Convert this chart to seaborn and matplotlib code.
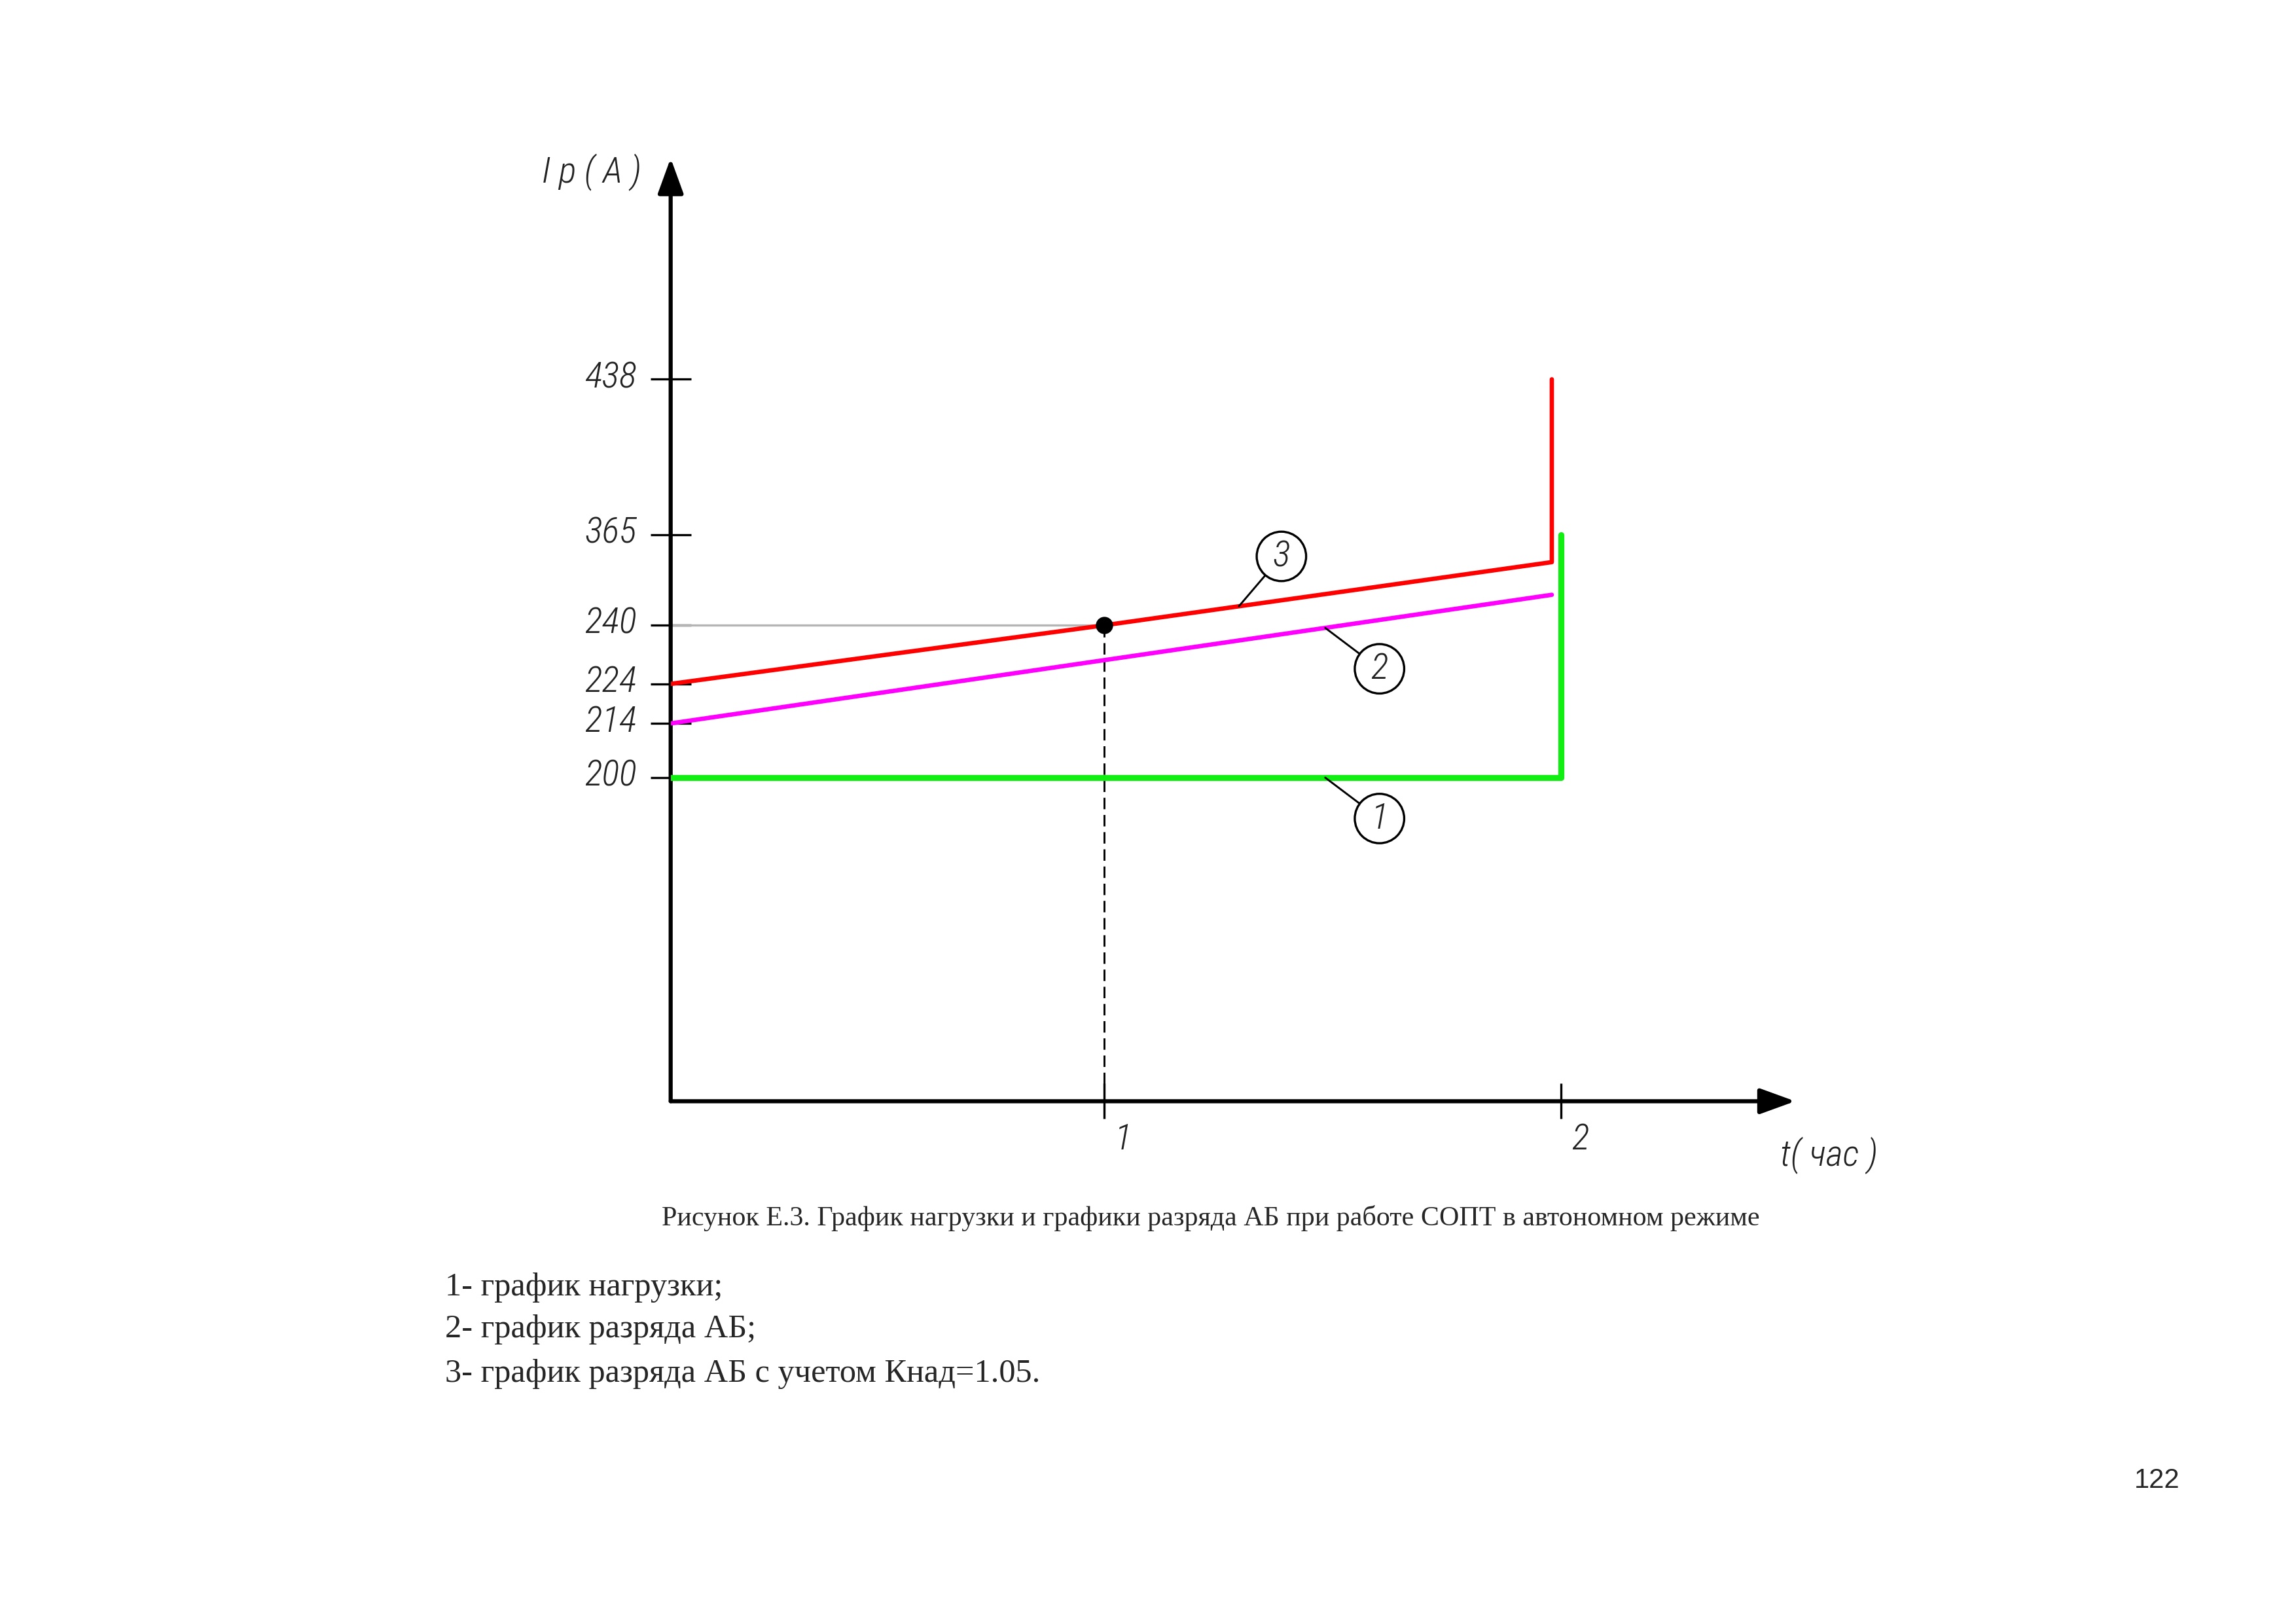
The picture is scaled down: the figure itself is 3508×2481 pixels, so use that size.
import numpy as np
import matplotlib
matplotlib.use('Agg')
import matplotlib.pyplot as plt
import matplotlib.transforms as mtransforms
import seaborn as sns

# ---------------------- data ---------------------- #
# 1 - load graph
t_load = [0.0, 2.0, 2.0]
i_load = [200, 200, 365]
# 2 - battery discharge graph
t_dis = [0.0, 1.98]
i_dis = [214, 282]
# 3 - battery discharge graph with K_nad = 1.05
t_dis_k = [0.0, 1.0, 1.98, 1.98]
i_dis_k = [224, 240, 327, 438]
# marked point
t_mark = [1.0]
i_mark = [240]

y_ticks = [200, 214, 224, 240, 365, 438]
x_ticks = [1, 2]

caption = 'Рисунок Е.3. График нагрузки и графики разряда АБ при работе СОПТ в автономном режиме'
legend_lines = ['1- график нагрузки;',
                '2- график разряда АБ;',
                '3- график разряда АБ с учетом Кнад=1.05.']
page_no = '122'

# ---------------------- schematic (non-linear) axis scales ---------------------- #
# the drawing is not to scale, so map values to drawing positions piecewise
y_knots_val = [0, 200, 214, 224, 240, 365, 438, 530]
y_knots_pos = [0, 221, 258, 285, 325, 387, 493, 644]
x_knots_val = [0, 1, 2, 2.5]
x_knots_pos = [0, 296, 608, 768]


def piecewise(vals, pos):
    fwd = lambda v: np.interp(v, vals, pos)
    inv = lambda p: np.interp(p, pos, vals)
    return fwd, inv


sns.set_theme(style='white')
plt.rcParams['font.family'] = ['DejaVu Sans']

fig = plt.figure(figsize=(3508 / 300, 2481 / 300), dpi=300)
ax = fig.add_axes([0.2921, 0.3219, 0.4898, 0.5807])
ax.set_yscale('function', functions=piecewise(y_knots_val, y_knots_pos))
ax.set_xscale('function', functions=piecewise(x_knots_val, x_knots_pos))
ax.set_ylim(0, 530)
ax.set_xlim(0, 2.5)
for s in ax.spines.values():
    s.set_visible(False)

# axes with arrow heads
arrow = dict(arrowstyle='-|>,head_length=0.55,head_width=0.2', color='black',
             lw=1.5, mutation_scale=20, shrinkA=0, shrinkB=0)
ax.annotate('', xy=(0, 1), xytext=(0, 0), xycoords='axes fraction', arrowprops=arrow)
ax.annotate('', xy=(1, 0), xytext=(0, 0), xycoords='axes fraction', arrowprops=arrow)

# helper lines to the marked point
ax.plot([0, t_mark[0]], [i_mark[0], i_mark[0]], color='#b5b5b5', lw=0.8, zorder=1)
ax.plot([t_mark[0], t_mark[0]], [0, i_mark[0]], color='black', lw=0.7,
        dashes=(6, 3), zorder=1)

sns.lineplot(x=t_load, y=i_load, ax=ax, color='#11ee11', lw=2.2,
             estimator=None, sort=False, zorder=3)
sns.lineplot(x=t_dis, y=i_dis, ax=ax, color='#ff00ff', lw=1.6,
             estimator=None, sort=False, zorder=3)
sns.lineplot(x=t_dis_k, y=i_dis_k, ax=ax, color='#ff0000', lw=1.6,
             estimator=None, sort=False, zorder=4)
sns.scatterplot(x=t_mark, y=i_mark, ax=ax, color='black', s=40, zorder=5,
                edgecolor='black', linewidth=0)

# ticks - thin italic narrow font, close to the GOST drafting font
gost = dict(family=['Roboto Condensed', 'Roboto', 'DejaVu Sans'], style='italic',
            weight='light')
ax.set_yticks(y_ticks)
ax.set_yticklabels([str(v) for v in y_ticks], fontsize=13.5, color='#222222', **gost)
ax.set_xticks(x_ticks)
ax.set_xticklabels([str(v) for v in x_ticks], fontsize=13.5, color='#222222', **gost)
ax.tick_params(axis='y', direction='inout', length=15, width=0.8, color='black', pad=5, left=True)
ax.tick_params(axis='x', direction='inout', length=13, width=0.8, color='black', pad=1, bottom=True)
shift_x = mtransforms.ScaledTranslation(7 / 72, 0, fig.dpi_scale_trans)
for lab in ax.get_xticklabels():
    lab.set_transform(lab.get_transform() + shift_x)
shift_y = mtransforms.ScaledTranslation(0, 2 / 72, fig.dpi_scale_trans)
for lab in ax.get_yticklabels():
    lab.set_transform(lab.get_transform() + shift_y)
ax.minorticks_off()
ax.grid(False)

ax.text(-0.07, 0.985, 'I p ( A )', transform=ax.transAxes, fontsize=13.5,
        ha='center', va='center', color='#222222', **gost)
ax.text(1.03, -0.058, 't( час )', transform=ax.transAxes, fontsize=13.5,
        ha='center', va='center', color='#222222', **gost)


# ---------------------- callout circles ---------------------- #
def y_at(xs, ys, x):
    disp = ax.transData.transform(np.column_stack([xs, ys]))
    xd = ax.transData.transform((x, 1))[0]
    yd = np.interp(xd, disp[:, 0], disp[:, 1])
    return ax.transData.inverted().transform((xd, yd))[1]


callouts = [('3', t_dis_k[1:3], i_dis_k[1:3], 1.295, (15.6, 18.3)),
            ('2', t_dis, i_dis, 1.484, (19.9, -15.0)),
            ('1', t_load[:2], i_load[:2], 1.484, (19.9, -15.0))]
for num, xs, ys, xa, off in callouts:
    ax.annotate(num, xy=(xa, y_at(xs, ys, xa)), xytext=off, textcoords='offset points',
                ha='center', va='center', fontsize=13.5, color='#222222', **gost,
                bbox=dict(boxstyle='circle,pad=0.2', fc='white', ec='black', lw=0.8),
                arrowprops=dict(arrowstyle='-', color='black', lw=0.7, shrinkA=0, shrinkB=0),
                zorder=6)

# ---------------------- captions ---------------------- #
serif = ['Liberation Serif', 'DejaVu Serif']
fig.text(0.5274, 0.2498, caption, ha='center', va='center', fontsize=10.1, family=serif)
for k, line in enumerate(legend_lines):
    fig.text(0.1939, [0.2074, 0.1813, 0.1542][k], line, ha='left', va='center',
             fontsize=12.1, family=serif)
fig.text(0.9394, 0.0884, page_no, ha='center', va='center', fontsize=10,
         family=['Liberation Sans', 'DejaVu Sans'])

fig.savefig('out.png', dpi=300, facecolor='white')
plt.close(fig)
